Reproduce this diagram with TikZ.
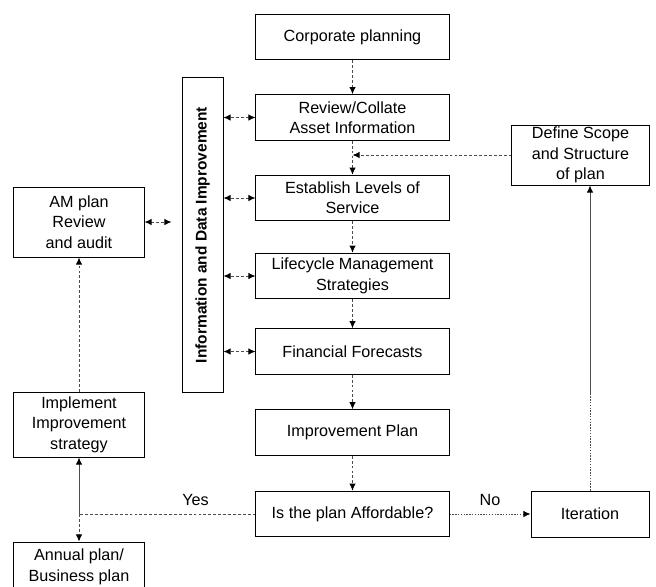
\documentclass[tikz,border=0pt]{standalone}
\usepackage{fontspec}
\setmainfont{Liberation Sans}
\usetikzlibrary{calc,positioning,arrows,arrows.meta}

\begin{document}
\begin{tikzpicture}[
	%	style def
    x=0.025cm, y=-0.025cm,
    every node/.style={color=black, font=\fontsize{11.5}{14.5}\selectfont},
    box/.style={draw, line width=0.7pt, align=center, inner sep=1pt},
    main box/.style={box, minimum width=4.825cm, minimum height=1.14cm},
    side box/.style={box, minimum width=3.25cm},
    link/.style={-{Latex[black,length=5pt,width=4.5pt]}, draw=black!70, line width=0.6pt, dash pattern=on 2pt off 1.5pt},
    both link/.style={link, {Latex[black,length=5pt,width=4.5pt]}-{Latex[black,length=5pt,width=4.5pt]}},
    ]

    % frame of the picture
    \useasboundingbox (0,0) rectangle (656,586);
    \clip (0,0) rectangle (656,586);

	% main column
    \node[main box] (corp) at (352.5,37) {Corporate planning};
    \node[main box] (review) at (352.5,117.5) {Review/Collate\\Asset Information};
    \node[main box] (levels) at (352.5,198) {Establish Levels of\\Service};
    \node[main box] (life) at (352.5,276) {Lifecycle Management\\Strategies};
    \node[main box] (fin) at (352.5,351.5) {Financial Forecasts};
    \node[main box] (impr) at (352.5,432.5) {Improvement Plan};
    \node[main box] (afford) at (352.5,514) {Is the plan Affordable?};

    % vertical bar
    \node[box, rotate=90, minimum width=7.85cm, minimum height=1.025cm,
          font=\bfseries\fontsize{11}{13}\selectfont] (info) at (202.5,235) {Information and Data Improvement};

    % left column
    \node[side box, minimum height=1.75cm] (am) at (79,222) {AM plan\\Review\\and audit};
    \node[side box, minimum height=1.625cm] (impl) at (79,424.5) {Implement\\Improvement\\strategy};
    \node[side box, minimum height=1.25cm] (annual) at (79,567) {Annual plan/\\Business plan};

    % right column
    \node[box, minimum width=3.425cm, minimum height=1.5cm] (scope) at (580.5,155) {Define Scope\\and Structure\\of plan};
    \node[box, minimum width=2.95cm, minimum height=1.15cm] (iter) at (590,514) {Iteration};

    % flow down the main column
    \draw[link] (corp) -- (review);
    \draw[link] (review) -- (levels);
    \draw[link] (levels) -- (life);
    \draw[link] (life) -- (fin);
    \draw[link] (fin) -- (impr);
    \draw[link] (impr) -- (afford);
    \draw[link] (scope.west) -- (scope.west -| review.south);

    % links to the bar
    \draw[both link] (review.west) -- (review.west -| info.south);
    \draw[both link] (levels.west) -- (levels.west -| info.south);
    \draw[both link] (life.west) -- (life.west -| info.south);
    \draw[both link] (fin.west) -- (fin.west -| info.south);
    \draw[both link, shorten >=0.25cm] (am.east) -- (am.east -| info.north);

    % yes branch
    \coordinate (yes) at (afford.west -| impl.south);
    \draw[draw=black!70, line width=0.6pt, dash pattern=on 2pt off 1.5pt] (afford.west) -- (yes) node[pos=0.34, above=2pt] {Yes};
    \draw[link] (yes) -- (annual.north);
    \draw[link, solid] (yes) -- (impl.south);
    \draw[link] (impl.north) -- (am.south);

    % no branch
    \draw[link, dash pattern=on 1pt off 1pt] (afford.east) -- (iter.west) node[midway, above=2pt] {No};
    \draw[draw=black!70, line width=0.6pt, dash pattern=on 1pt off 1pt] (iter.north) -- ++(0,-98) coordinate (bend);
    \draw[link, solid] (bend) -- (bend |- scope.south);
\end{tikzpicture}
\end{document}
